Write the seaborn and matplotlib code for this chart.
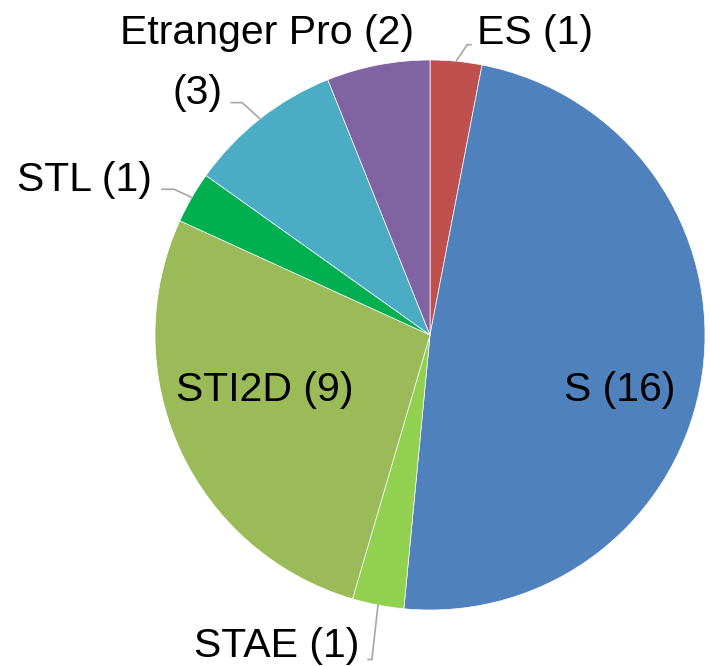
import numpy as np
import matplotlib.pyplot as plt
import seaborn as sns

# data
labels = ['ES', 'S', 'STAE', 'STI2D', 'STL', '', 'Etranger Pro']
counts = [1, 16, 1, 9, 1, 3, 2]
colors = ['#C0504D', '#4F81BD', '#92D050', '#9BBB59', '#00B050', '#4BACC6', '#8064A2']

# label placement (data units, pie radius = 1) and leader side
label_pos = {
    'ES': (0.382, 1.10),
    'S': (0.69, -0.20),
    'STAE': (-0.556, -1.13),
    'STI2D': (-0.60, -0.20),
    'STL': (-1.258, 0.565),
    '': (-0.847, 0.88),
    'Etranger Pro': (-0.593, 1.10),
}
leaders = {'ES': 'left', '': 'right', 'STL': 'right', 'STAE': 'right_up'}

sns.set_theme(style='white')
plt.rcParams['font.family'] = ['Liberation Sans', 'DejaVu Sans']

fig = plt.figure(figsize=(7.10, 6.66), dpi=100)
ax = fig.add_axes([0, 0, 1, 1])

wedges, _ = ax.pie(counts, colors=colors, startangle=90, counterclock=False,
                   radius=1.0, center=(0, 0),
                   wedgeprops=dict(edgecolor='white', linewidth=0.5))

gray = '#A6A6A6'
for w, lab, n in zip(wedges, labels, counts):
    txt = f'{lab} ({n})' if lab else f'({n})'
    x, y = label_pos[lab]
    t = ax.text(x, y, txt, ha='center', va='center', fontsize=29.5, color='black')
    if lab in leaders:
        mid = np.deg2rad((w.theta1 + w.theta2) / 2)
        px, py = np.cos(mid), np.sin(mid)
        fig.canvas.draw()
        bb = t.get_window_extent().transformed(ax.transData.inverted())
        side = leaders[lab]
        if side == 'left':
            ex = bb.x0 - 0.015
            ey = py + 0.06
            xs = [px, px + 0.04, ex]
            ys = [py, ey, ey]
        elif side == 'right':
            ex = bb.x1 + 0.03
            ey = y - 0.035
            xs = [px, px - 0.065, ex]
            ys = [py, ey, ey]
        else:
            ex = bb.x1 + 0.02
            ey = y - 0.05
            xs = [px, px - 0.022, ex]
            ys = [py, ey, ey]
        ax.plot(xs, ys, color=gray, lw=1.2, solid_joinstyle='miter')

ax.set_xlim(-430 / 275, 280 / 275)
ax.set_ylim(-331 / 275, 335 / 275)
ax.set_aspect('auto')
ax.axis('off')

fig.savefig('out.png', dpi=100, facecolor='white')
